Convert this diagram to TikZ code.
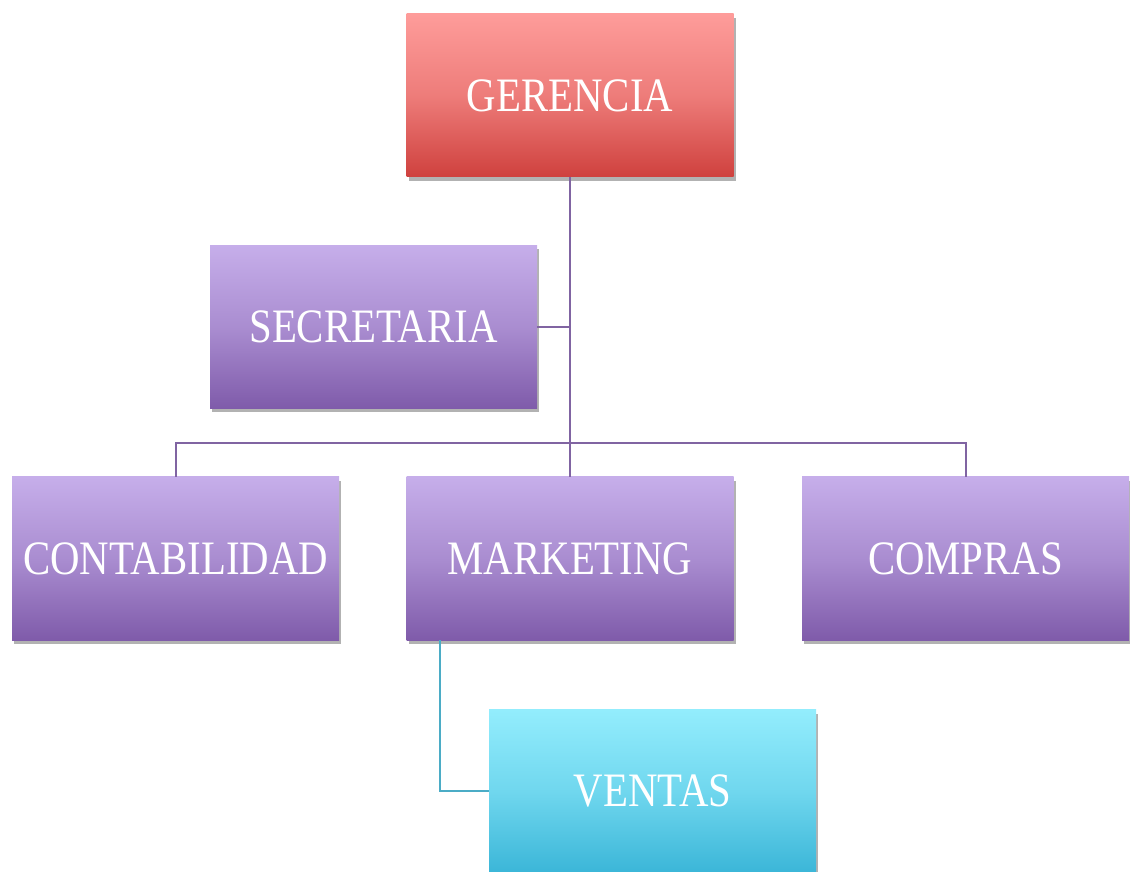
\documentclass[tikz,border=0pt]{standalone}
\usepackage{fontspec}
\setmainfont[FakeStretch=0.85]{Liberation Serif}
\usetikzlibrary{shadows,calc}
\definecolor{redtop}{HTML}{FE9C9A}
\definecolor{redbot}{HTML}{CF413E}
\definecolor{purtop}{HTML}{C6AEEA}
\definecolor{purbot}{HTML}{7F5BAA}
\definecolor{cyantop}{HTML}{93EDFD}
\definecolor{cyanbot}{HTML}{3BB6D8}
\definecolor{linepur}{HTML}{8064A2}
\definecolor{lineteal}{HTML}{4BACC6}
\tikzset{
  orgbox/.style={rectangle, minimum width=327pt, minimum height=163pt, inner sep=0pt,
    text=white, font=\fontsize{48}{50}\selectfont,
    drop shadow={shadow xshift=2pt, shadow yshift=-4pt, opacity=0.3, fill=black}},
  redbox/.style={orgbox, top color=redtop, bottom color=redbot, middle color=redtop!65!redbot},
  purbox/.style={orgbox, top color=purtop, bottom color=purbot, middle color=purtop!60!purbot},
  cyanbox/.style={orgbox, top color=cyantop, bottom color=cyanbot, middle color=cyantop!60!cyanbot},
  purline/.style={draw=linepur, line width=2pt},
  tealline/.style={draw=lineteal, line width=2pt}
}
\begin{document}
\begin{tikzpicture}[x=1pt,y=1pt]
\useasboundingbox (0,0) rectangle (1130,871);
\node[redbox] (ger) at (570,775.5) {GERENCIA};
\node[purbox] (sec) at (373.5,544) {SECRETARIA};
\node[purbox] (con) at (175.5,312.5) {CONTABILIDAD};
\node[purbox] (mkt) at (570,312.5) {MARKETING};
\node[purbox] (com) at (965.5,312.5) {COMPRAS};
\node[cyanbox] (ven) at (652.5,80) {VENTAS};
\draw[purline] (ger.south) -- (mkt.north);
\draw[purline] (sec.east) -- (ger.south |- sec.east);
\draw[purline] (con.north) -- ++(0,34) -| (com.north);
\draw[tealline] ([xshift=-130pt]mkt.south) |- (ven.west);
\end{tikzpicture}
\end{document}
